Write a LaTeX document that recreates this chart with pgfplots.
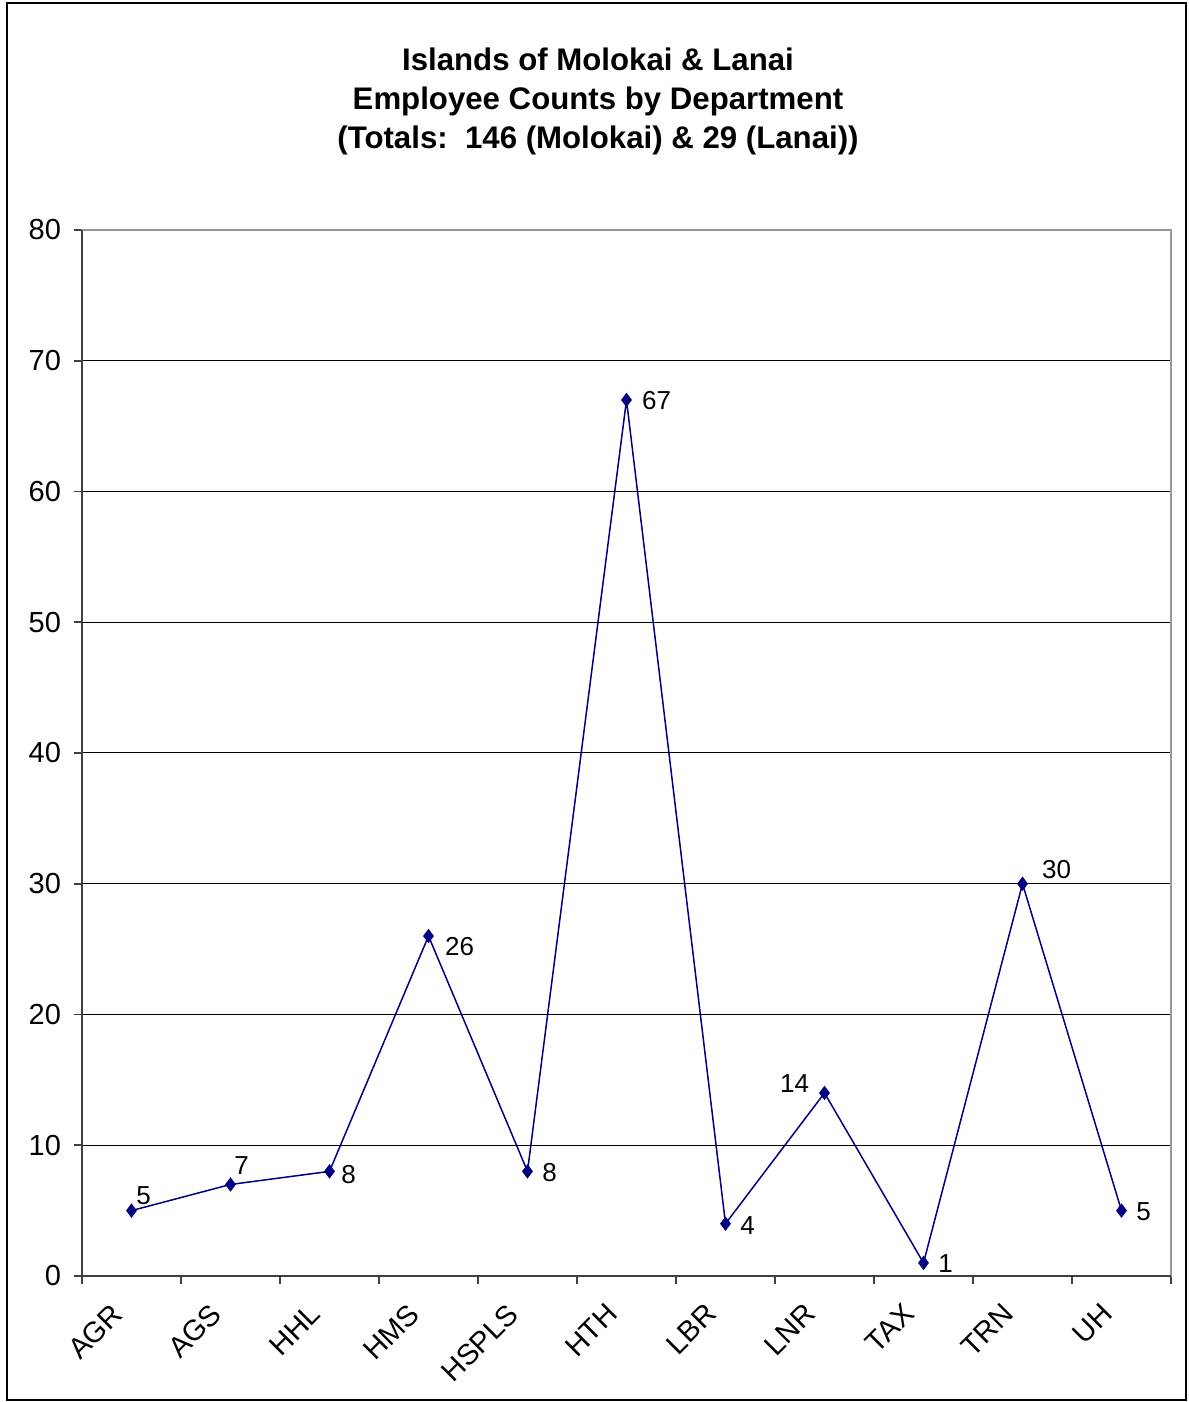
\documentclass[border=0pt]{standalone}
\usepackage{pgfplots}
\pgfplotsset{compat=1.18}
\usepackage{pgfplotstable}
\usepackage{fontspec}
\setmainfont{Liberation Sans}
\definecolor{navyline}{HTML}{000080}
\pgfplotstableread{
x y dx dy
0 5 6 7.5
1 7 5.5 9.5
2 8 9.5 -1.5
3 26 15.5 -5.5
4 8 11 -0.5
5 67 15 -0.5
6 4 11 -1
7 14 -15 4.5
8 1 11 -0.5
9 30 17 7
10 5 11 -0.5
}\datatable
\begin{document}
\begin{tikzpicture}[x=1pt,y=1pt]
\useasboundingbox (0,0) rectangle (594,701);
\draw[line width=1pt] (3.5,0.75) rectangle (593,699.5);
\node[align=center,font=\fontsize{15.6}{19.5}\selectfont\bfseries] at (299,650.2)
  {Islands of Molokai \& Lanai\\Employee Counts by Department\\(Totals:\ \ 146 (Molokai) \& 29 (Lanai))};
\begin{axis}[
  at={(41pt,63pt)}, anchor=south west,
  scale only axis, width=544.5pt, height=523pt,
  xmin=-0.5, xmax=10.5, ymin=0, ymax=80,
  xtick={0,...,10},
  xticklabels={AGR,AGS,HHL,HMS,HSPLS,HTH,LBR,LNR,TAX,TRN,UH},
  minor xtick={-0.5,0.5,...,10.5},
  ytick={0,10,...,80},
  xtick pos=bottom, ytick pos=left,
  major x tick style={draw=none},
  tick align=outside,
  major tick length=4pt, minor tick length=4pt,
  tick style={color=black!75, line width=0.8pt},
  ymajorgrids, major grid style={black, line width=0.5pt},
  axis line style={gray!80, line width=0.6pt},
  tick label style={font=\fontsize{14.5}{16}\selectfont},
  yticklabel style={xshift=-3pt},
  xticklabel style={rotate=45, anchor=north east, xshift=-10.4pt, yshift=4.7pt},
  /pgf/number format/assume math mode=true,
  clip=false,
  after end axis/.code={
    \draw[black!75, line width=1pt] (rel axis cs:0,1) -- (rel axis cs:0,0) -- (rel axis cs:1,0);
  },
]
\addplot[navyline, line width=0.75pt, mark=diamond*, mark size=3pt,
  mark options={fill=navyline, draw=navyline},
  visualization depends on={\thisrow{dx} \as \dx},
  visualization depends on={\thisrow{dy} \as \dy},
  nodes near coords,
  nodes near coords style={anchor=center, xshift=\dx pt, yshift=\dy pt, text=black, font=\fontsize{13}{15}\selectfont},
] table[x=x, y=y] {\datatable};
\end{axis}
\end{tikzpicture}
\end{document}
